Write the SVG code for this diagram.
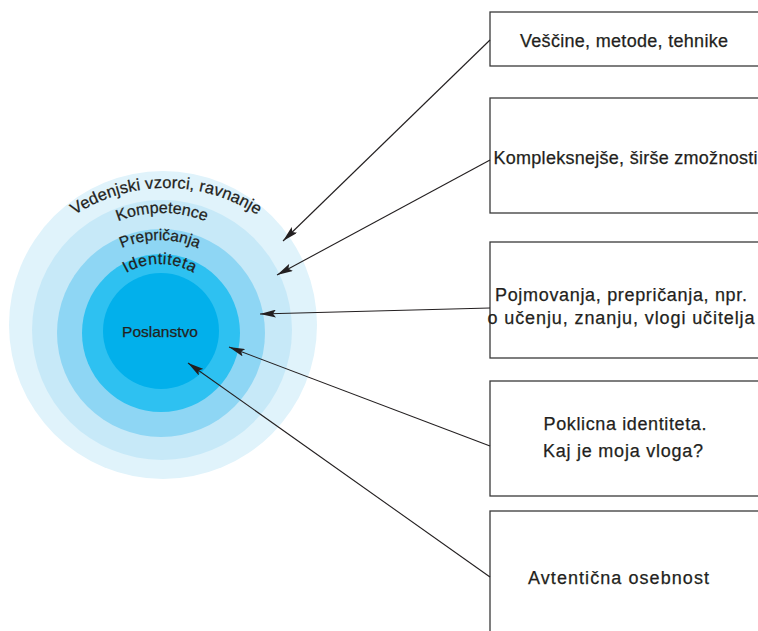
<svg xmlns="http://www.w3.org/2000/svg" width="758" height="631" viewBox="0 0 758 631">
<style>
.t{font-family:"Liberation Sans","DejaVu Sans",sans-serif;fill:#231f20;stroke:#231f20;stroke-width:0.25;}
.box{fill:#fff;stroke:#3a3a3a;stroke-width:1.3;}
.bt{font-size:18px;text-anchor:middle;}
.con{stroke:#231f20;stroke-width:1.1;fill:none;marker-end:url(#ah);}
</style>
<defs>
<marker id="ah" viewBox="0 0 16 8" refX="16" refY="4" markerWidth="16" markerHeight="8" markerUnits="userSpaceOnUse" orient="auto">
<path d="M0,0 L16,4 L0,8 L3,4 Z" fill="#231f20"/>
</marker>
<path id="a1" d="M-2,356 A168,168 0 0 1 334,356"/>
<path id="a2" d="M44,331 A118,118 0 0 1 280,331"/>
<path id="a3" d="M68,332 A92,92 0 0 1 252,332"/>
<path id="a4" d="M92,332 A68,68 0 0 1 228,332"/>
</defs>
<rect width="758" height="631" fill="#fff"/>
<g id="rings">
<circle cx="163" cy="325" r="154" fill="#e0f3fb"/>
<circle cx="162" cy="330" r="130" fill="#c7e9f8"/>
<circle cx="161" cy="333" r="104" fill="#8ed6f4"/>
<circle cx="161" cy="333" r="79" fill="#2ec1f1"/>
<circle cx="161" cy="331" r="58" fill="#02b0eb"/>
<text class="t" font-size="16.5" letter-spacing="0.1" text-anchor="middle"><textPath href="#a1" startOffset="50%">Vedenjski vzorci, ravnanje</textPath></text>
<text class="t" font-size="16" text-anchor="middle"><textPath href="#a2" startOffset="50%">Kompetence</textPath></text>
<text class="t" font-size="15.5" text-anchor="middle"><textPath href="#a3" startOffset="50%">Prepričanja</textPath></text>
<text class="t" font-size="16" letter-spacing="0.5" text-anchor="middle"><textPath href="#a4" startOffset="50%">Identiteta</textPath></text>
<text class="t" x="160" y="337" font-size="15.5" text-anchor="middle">Poslanstvo</text>
</g>
<g id="n1"><rect class="box" x="490" y="12" width="290" height="54"/><text class="t bt" x="624" y="47" textLength="208" lengthAdjust="spacing">Veščine, metode, tehnike</text></g>
<g id="n2"><rect class="box" x="490" y="98" width="290" height="115"/><text class="t bt" x="625.5" y="164" textLength="264" lengthAdjust="spacing">Kompleksnejše, širše zmožnosti</text></g>
<g id="n3"><rect class="box" x="490" y="242" width="290" height="116"/><text class="t bt" x="621" y="301" textLength="252" lengthAdjust="spacing">Pojmovanja, prepričanja, npr.</text><text class="t bt" x="621" y="324" textLength="267" lengthAdjust="spacing">o učenju, znanju, vlogi učitelja</text></g>
<g id="n4"><rect class="box" x="490" y="381" width="290" height="115"/><text class="t bt" x="625" y="430" textLength="163" lengthAdjust="spacing">Poklicna identiteta.</text><text class="t bt" x="623" y="457" textLength="160" lengthAdjust="spacing">Kaj je moja vloga?</text></g>
<g id="n5"><rect class="box" x="490" y="511" width="290" height="140"/><text class="t bt" x="618.5" y="584" textLength="181" lengthAdjust="spacing">Avtentična osebnost</text></g>
<g id="connectors">
<line class="con" x1="490" y1="40" x2="283" y2="241"/>
<line class="con" x1="490" y1="160" x2="277" y2="275"/>
<line class="con" x1="490" y1="308" x2="260" y2="314"/>
<line class="con" x1="490" y1="446" x2="229" y2="347"/>
<line class="con" x1="490" y1="577" x2="188" y2="363"/>
</g>
</svg>
